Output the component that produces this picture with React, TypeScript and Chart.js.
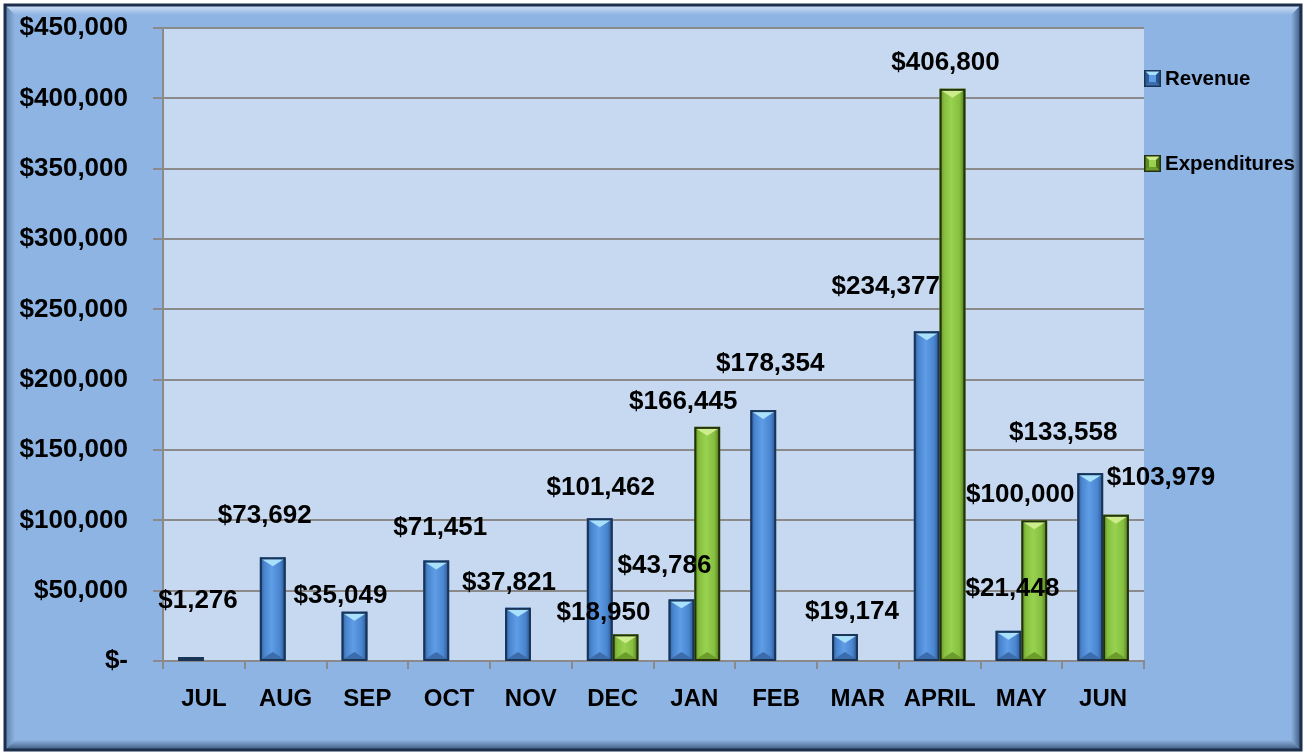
import React, { useEffect, useRef } from "react";
import { Chart, registerables } from "chart.js";

Chart.register(...registerables);

const categories = ["JUL", "AUG", "SEP", "OCT", "NOV", "DEC", "JAN", "FEB", "MAR", "APRIL", "MAY", "JUN"];
const revenue = [1276, 73692, 35049, 71451, 37821, 101462, 43786, 178354, 19174, 234377, 21448, 133558];
const expenditures = [null, null, null, null, null, 18950, 166445, null, null, 406800, 100000, 103979];
const seriesNames = ["Revenue", "Expenditures"];
const yMax = 450000;
const yStep = 50000;

// label offsets (dx, dy) relative to bar top-centre, as placed in the original
const revenueLabelOffsets = [
  [7, -58], [-8, -42], [-14, -16], [4, -33], [-9, -25], [1, -30],
  [-17, -34], [7, -46], [7, -22], [-41, -44], [4, -42], [-27, -40],
];
const expenditureLabelOffsets = [
  [0, 0], [0, 0], [0, 0], [0, 0], [0, 0], [-22, -22],
  [-24, -25], [0, 0], [0, 0], [-7, -26], [-14, -26], [45, -37],
];

const FONT = "'Liberation Sans', Arial, sans-serif";

const palettes = [
  {
    base: "#4A84CC", edgeL: "#2F5C98", mid: "#4A86D0", light: "#5F9DE6", edgeR: "#2A5088",
    border: "#1A3456", top: "#A9E0FB", bot: "#3C6CAC",
  },
  {
    base: "#86BF3F", edgeL: "#5E8A22", mid: "#86BF3F", light: "#98D250", edgeR: "#4A6F1A",
    border: "#24310F", top: "#CDEC8C", bot: "#6C9C2B",
  },
];

function fmt(v: number) {
  return v === 0 ? "$-" : "$" + v.toLocaleString("en-US");
}

function drawBevelRect(ctx: CanvasRenderingContext2D, left: number, top: number, right: number, bottom: number, pal: any) {
  const w = right - left;
  const h = bottom - top;
  if (h <= 0 || w <= 0) return;
  const g = ctx.createLinearGradient(left, 0, right, 0);
  g.addColorStop(0, pal.edgeL);
  g.addColorStop(0.18, pal.mid);
  g.addColorStop(0.45, pal.light);
  g.addColorStop(0.78, pal.mid);
  g.addColorStop(1, pal.edgeR);
  ctx.fillStyle = g;
  ctx.fillRect(left, top, w, h);
  const t = Math.min(w * 0.27, h / 2);
  if (t > 1) {
    ctx.fillStyle = pal.top;
    ctx.beginPath();
    ctx.moveTo(left + 2, top + 2);
    ctx.lineTo(right - 2, top + 2);
    ctx.lineTo((left + right) / 2, top + 2 + t);
    ctx.closePath();
    ctx.fill();
    ctx.fillStyle = pal.bot;
    ctx.beginPath();
    ctx.moveTo(left + 2, bottom - 1);
    ctx.lineTo(right - 2, bottom - 1);
    ctx.lineTo((left + right) / 2, bottom - 1 - t);
    ctx.closePath();
    ctx.fill();
  }
  ctx.strokeStyle = pal.border;
  ctx.lineWidth = 2;
  ctx.strokeRect(left + 1, top + 1, w - 2, Math.max(h - 1, 1));
}

const framePlugin = {
  id: "frame",
  beforeDraw(chart: any) {
    const ctx = chart.ctx as CanvasRenderingContext2D;
    const W = chart.width;
    const H = chart.height;
    ctx.save();
    ctx.fillStyle = "#ffffff";
    ctx.fillRect(0, 0, W, H);
    const x0 = 5, y0 = 5, x1 = W - 6, y1 = H - 3, b = 10;
    const fill = "#8EB4E3";
    ctx.fillStyle = fill;
    ctx.fillRect(x0, y0, x1 - x0, y1 - y0);
    const quad = (pts: number[][], grad: CanvasGradient) => {
      ctx.fillStyle = grad;
      ctx.beginPath();
      ctx.moveTo(pts[0][0], pts[0][1]);
      for (let i = 1; i < pts.length; i++) ctx.lineTo(pts[i][0], pts[i][1]);
      ctx.closePath();
      ctx.fill();
    };
    let g = ctx.createLinearGradient(0, y0, 0, y0 + b);
    g.addColorStop(0, "#D3E3F7");
    g.addColorStop(1, fill);
    quad([[x0, y0], [x1, y0], [x1 - b, y0 + b], [x0 + b, y0 + b]], g);
    g = ctx.createLinearGradient(x0, 0, x0 + b, 0);
    g.addColorStop(0, "#5E7EA8");
    g.addColorStop(1, fill);
    quad([[x0, y0], [x0 + b, y0 + b], [x0 + b, y1 - b], [x0, y1]], g);
    g = ctx.createLinearGradient(x1, 0, x1 - b, 0);
    g.addColorStop(0, "#3B5679");
    g.addColorStop(1, fill);
    quad([[x1, y0], [x1 - b, y0 + b], [x1 - b, y1 - b], [x1, y1]], g);
    g = ctx.createLinearGradient(0, y1, 0, y1 - b);
    g.addColorStop(0, "#3B5679");
    g.addColorStop(1, fill);
    quad([[x0, y1], [x0 + b, y1 - b], [x1 - b, y1 - b], [x1, y1]], g);
    ctx.strokeStyle = "#1C2F4C";
    ctx.lineWidth = 3;
    ctx.strokeRect(x0, y0, x1 - x0, y1 - y0);
    const a = chart.chartArea;
    ctx.fillStyle = "#C6D9F1";
    ctx.fillRect(a.left, a.top, a.right - a.left, a.bottom - a.top);
    ctx.restore();
  },
  afterDatasetsDraw(chart: any) {
    const ctx = chart.ctx as CanvasRenderingContext2D;
    ctx.save();
    const offsets = [revenueLabelOffsets, expenditureLabelOffsets];
    // bars
    chart.data.datasets.forEach((ds: any, di: number) => {
      const meta = chart.getDatasetMeta(di);
      meta.data.forEach((el: any, i: number) => {
        if (ds.data[i] == null) return;
        const p = el.getProps(["x", "y", "base", "width"], true);
        drawBevelRect(ctx, p.x - p.width / 2, Math.min(p.y, p.base - 3), p.x + p.width / 2, p.base, palettes[di]);
      });
    });
    // labels
    ctx.fillStyle = "#000";
    ctx.font = `bold 26px ${FONT}`;
    ctx.textAlign = "center";
    ctx.textBaseline = "middle";
    chart.data.datasets.forEach((ds: any, di: number) => {
      const meta = chart.getDatasetMeta(di);
      meta.data.forEach((el: any, i: number) => {
        const v = ds.data[i];
        if (v == null) return;
        const p = el.getProps(["x", "y"], true);
        const o = offsets[di][i];
        ctx.fillText(fmt(v), p.x + o[0], p.y + o[1]);
      });
    });
    // legend
    const legendY = [78, 163];
    ctx.font = `bold 20.5px ${FONT}`;
    ctx.textAlign = "left";
    chart.data.datasets.forEach((ds: any, di: number) => {
      const pal = palettes[di];
      const bx = 1144, by = legendY[di] - 8, s = 17;
      ctx.fillStyle = pal.mid;
      ctx.fillRect(bx, by, s, s);
      ctx.fillStyle = pal.top;
      ctx.beginPath();
      ctx.moveTo(bx, by); ctx.lineTo(bx + s, by); ctx.lineTo(bx + s / 2, by + s / 2); ctx.closePath(); ctx.fill();
      ctx.fillStyle = pal.edgeR;
      ctx.beginPath();
      ctx.moveTo(bx + s, by); ctx.lineTo(bx + s, by + s); ctx.lineTo(bx + s / 2, by + s / 2); ctx.closePath(); ctx.fill();
      ctx.fillStyle = pal.bot;
      ctx.beginPath();
      ctx.moveTo(bx, by + s); ctx.lineTo(bx + s, by + s); ctx.lineTo(bx + s / 2, by + s / 2); ctx.closePath(); ctx.fill();
      ctx.fillStyle = pal.edgeL;
      ctx.beginPath();
      ctx.moveTo(bx, by); ctx.lineTo(bx, by + s); ctx.lineTo(bx + s / 2, by + s / 2); ctx.closePath(); ctx.fill();
      ctx.fillStyle = pal.light;
      ctx.fillRect(bx + 5, by + 5, s - 10, s - 10);
      ctx.strokeStyle = pal.border;
      ctx.lineWidth = 1.5;
      ctx.strokeRect(bx + 0.75, by + 0.75, s - 1.5, s - 1.5);
      ctx.fillStyle = "#000";
      ctx.fillText(ds.label, 1165, legendY[di] + 1);
    });
    ctx.restore();
  },
};

export default function App() {
  const ref = useRef<HTMLCanvasElement | null>(null);
  useEffect(() => {
    document.body.style.margin = "0";
    const canvas = ref.current!;
    const chart = new Chart(canvas, {
      type: "bar",
      data: {
        labels: categories,
        datasets: [
          { label: seriesNames[0], data: revenue, backgroundColor: palettes[0].base, borderWidth: 0 },
          { label: seriesNames[1], data: expenditures as any, backgroundColor: palettes[1].base, borderWidth: 0 },
        ],
      },
      options: {
        responsive: false,
        animation: false,
        devicePixelRatio: 1,
        layout: { padding: { top: 28, right: 163, bottom: 0, left: 0 } },
        datasets: { bar: { categoryPercentage: 0.63, barPercentage: 1.0 } },
        plugins: { legend: { display: false }, tooltip: { enabled: false } },
        scales: {
          x: {
            afterFit: (s: any) => { s.height = 92; },
            offset: true,
            grid: {
              display: true, drawOnChartArea: false, drawTicks: true, tickLength: 8,
              color: "#8A8A8A", lineWidth: 2, offset: true,
            },
            border: { display: true, color: "#8A8A8A", width: 2 },
            ticks: { color: "#000", padding: 16, font: { family: FONT, size: 24, weight: "bold" } },
          },
          y: {
            min: 0,
            max: yMax,
            afterFit: (s: any) => { s.width = 163; s.paddingTop = 0; s.paddingBottom = 0; },
            grid: { color: "#8A8A8A", lineWidth: 2, drawTicks: true, tickLength: 10 },
            border: { display: true, color: "#8A8A8A", width: 2 },
            ticks: {
              stepSize: yStep,
              color: "#000",
              padding: 25,
              font: { family: FONT, size: 26, weight: "bold" },
              callback: (v: any) => fmt(Number(v)),
            },
          },
        },
      },
      plugins: [framePlugin],
    });
    return () => chart.destroy();
  }, []);
  return (
    <div style={{ position: "absolute", left: 0, top: 0, width: 1307, height: 753 }}>
      <canvas ref={ref} width={1307} height={753} style={{ display: "block" }} />
    </div>
  );
}
